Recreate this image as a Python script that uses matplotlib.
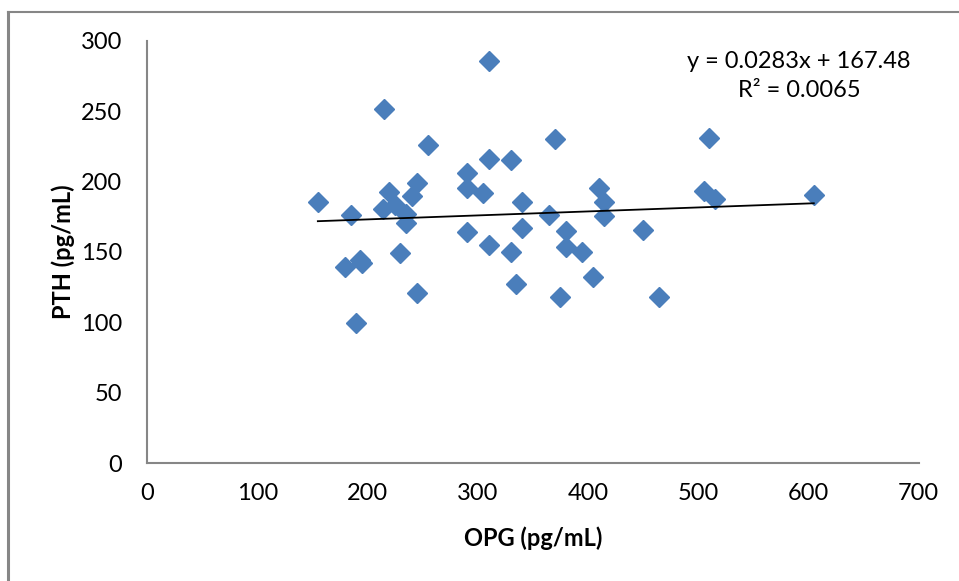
import matplotlib
matplotlib.use("Agg")
import matplotlib.pyplot as plt
from matplotlib.lines import Line2D
import numpy as np

plt.rcParams['font.family'] = ['Lato', 'DejaVu Sans']

opg = [155, 185, 180, 195, 193, 190, 215, 220, 214, 225, 235, 235, 230, 240, 245,
       245, 255, 310, 310, 330, 290, 290, 305, 340, 410, 415, 505, 515, 605, 365,
       415, 290, 340, 380, 450, 310, 330, 380, 395, 405, 335, 375, 465, 370, 510]
pth = [185.5, 176.1, 139.6, 142.0, 144.3, 99.4, 251.5, 192.6, 180.5, 183.4, 177.0,
       170.4, 149.5, 190.0, 198.8, 120.7, 226.0, 285.6, 216.0, 215.3, 205.9, 195.2,
       191.7, 185.5, 195.6, 185.7, 193.5, 187.4, 190.7, 176.5, 175.6, 164.4, 166.8,
       164.9, 165.6, 155.0, 150.2, 153.8, 149.8, 132.5, 127.3, 118.3, 118.3, 230.0,
       230.7]
slope = 0.0283
intercept = 167.48
eq_text = "y = 0.0283x + 167.48\nR² = 0.0065"
x_ticks = [0, 100, 200, 300, 400, 500, 600, 700]
y_ticks = [0, 50, 100, 150, 200, 250, 300]

W, H = 959, 581
fig = plt.figure(figsize=(W / 100, H / 100), dpi=100)
ax = fig.add_axes([147 / W, 1 - 463.3 / H, (918.5 - 147) / W, (463.3 - 40.7) / H])

ax.plot(opg, pth, linestyle='none', marker='D', markersize=10,
        color='#4A7EBB', markeredgecolor='#4A7EBB', zorder=3)

xs = np.array([min(opg), max(opg)])
ax.plot(xs, slope * xs + intercept, color='black', linewidth=1.3, zorder=4)

ax.set_xlim(0, 700)
ax.set_ylim(0, 300)
ax.set_xticks(x_ticks)
ax.set_yticks(y_ticks)
ax.tick_params(length=0, labelsize=17)
ax.tick_params(axis='x', pad=14)
ax.tick_params(axis='y', pad=18)
for s in ['top', 'right']:
    ax.spines[s].set_visible(False)
for s in ['left', 'bottom']:
    ax.spines[s].set_color('#868686')
    ax.spines[s].set_linewidth(1.5)

ax.set_xlabel('OPG (pg/mL)', fontsize=17, fontweight='bold', labelpad=16)
ax.set_ylabel('PTH (pg/mL)', fontsize=17, fontweight='bold', labelpad=4)

fig.text(799 / W, 1 - 76 / H, eq_text, ha='center', va='center',
         fontsize=17, linespacing=1.45)

# outer chart border
fig.add_artist(Line2D([8 / W, 1.0], [1 - 11.5 / H, 1 - 11.5 / H],
                      transform=fig.transFigure, color='#868686', linewidth=1.5))
fig.add_artist(Line2D([8 / W, 8 / W], [0, 1 - 11.5 / H],
                      transform=fig.transFigure, color='#868686', linewidth=2.2))

fig.savefig('out.png', dpi=100)
